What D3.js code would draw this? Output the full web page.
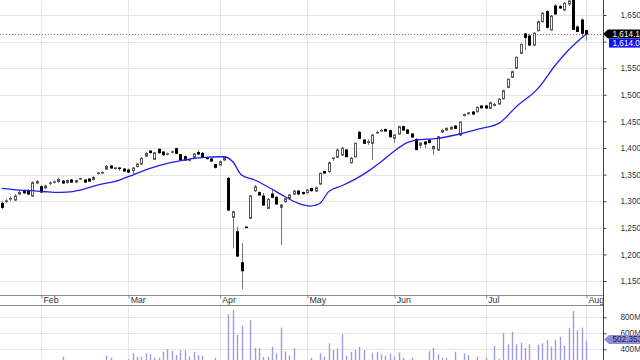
<!DOCTYPE html>
<html><head><meta charset="utf-8">
<script src="https://cdn.jsdelivr.net/npm/d3@7"></script>
<style>
body{margin:0;background:#fff}
svg{display:block}
text{font-family:"Liberation Sans",Arial,sans-serif}
</style>
</head><body>
<svg id="c" width="640" height="360"></svg>
<script>
// ---------- data ----------
const openP = [1296.0,1299.5,1304.0,1302.2,1313.5,1319.7,1319.7,1309.7,1334.2,1327.2,1324.8,1333.5,1335.5,1337.0,1337.9,1335.1,1339.8,1336.0,1341.7,1339.8,
1341.7,1340.7,1352.0,1353.0,1360.5,1366.1,1361.5,1362.5,1360.5,1358.6,1357.7,1365.2,1369.9,1384.9,1394.3,1378.7,1397.5,1392.4,1388.2,1392.0,
1398.6,1387.4,1383.6,1377.0,1382.5,1391.5,1390.0,1381.0,1379.3,1369.0,1368.0,1377.4,1343.0,1269.7,1242.6,1184.4,1251.4,1267.8,1319.7,1315.9,
1309.7,1286.6,1313.5,1307.3,1288.5,1299.0,1305.4,1313.5,1319.1,1316.3,1315.9,1323.8,1319.1,1332.3,1355.8,1355.4,1380.2,1382.5,1386.8,1396.2,
1372.3,1383.6,1429.5,1415.0,1410.3,1408.8,1428.3,1432.0,1434.7,1432.5,1418.2,1426.3,1440.0,1433.8,1426.3,1416.0,1404.7,1411.2,1415.0,1398.6,
1396.2,1430.0,1433.8,1435.7,1441.3,1424.4,1461.1,1464.3,1467.6,1468.2,1478.9,1478.9,1474.6,1479.9,1482.7,1492.6,1514.1,1532.9,1549.8,1578.0,
1614.3,1610.5,1593.6,1620.5,1637.4,1656.2,1621.8,1666.9,1666.0,1659.4,1670.7,1680.1,1627.4,1640.6,1620.5];
const highP = [1300.3,1304.0,1308.8,1313.5,1321.0,1322.0,1322.9,1337.9,1339.8,1330.4,1331.3,1337.0,1338.9,1344.5,1339.8,1340.7,1341.7,1340.7,1344.5,1341.7,
1343.6,1347.3,1354.8,1355.8,1368.0,1368.0,1364.2,1363.3,1362.4,1361.4,1364.2,1371.8,1383.0,1392.4,1396.2,1392.4,1399.0,1394.3,1391.5,1395.3,
1400.9,1388.7,1385.9,1380.2,1390.6,1396.2,1392.4,1383.0,1381.2,1369.9,1376.5,1384.0,1345.4,1282.5,1252.0,1221.4,1252.4,1311.6,1330.4,1318.2,
1315.4,1305.9,1321.0,1309.7,1294.7,1306.9,1313.5,1321.0,1321.0,1318.2,1322.9,1325.7,1327.6,1353.9,1357.7,1374.6,1382.1,1399.0,1402.8,1398.1,
1383.0,1410.3,1431.9,1416.9,1415.9,1426.3,1432.9,1435.7,1436.6,1434.7,1426.3,1442.3,1442.3,1435.7,1428.2,1418.8,1410.3,1413.1,1416.9,1404.7,
1422.5,1435.7,1438.5,1441.3,1443.2,1449.8,1464.8,1467.6,1469.5,1478.0,1480.8,1481.7,1487.4,1484.6,1493.9,1509.9,1530.6,1545.7,1572.0,1596.4,
1616.2,1614.3,1618.0,1639.7,1655.6,1659.4,1650.0,1670.7,1668.8,1674.4,1683.8,1682.0,1631.2,1643.4,1621.8];
const lowP = [1285.3,1296.5,1300.3,1300.3,1311.6,1313.5,1311.6,1307.8,1332.3,1315.4,1322.9,1330.4,1333.2,1334.2,1332.3,1333.2,1334.2,1334.2,1339.8,1334.2,
1336.0,1338.9,1350.1,1351.1,1358.6,1361.4,1359.6,1356.7,1354.8,1352.9,1351.1,1363.3,1368.0,1383.0,1389.6,1377.4,1389.6,1384.9,1385.9,1389.6,
1388.7,1375.5,1375.5,1374.6,1381.2,1386.8,1381.2,1378.3,1373.6,1361.4,1367.1,1375.5,1281.5,1211.4,1195.0,1134.9,1249.6,1266.5,1317.2,1309.7,
1290.9,1285.3,1305.9,1292.8,1217.6,1297.5,1304.1,1311.6,1311.6,1311.6,1314.4,1318.2,1317.2,1330.4,1351.1,1353.9,1375.5,1381.2,1384.9,1383.0,
1370.8,1382.1,1416.9,1407.5,1405.6,1377.4,1426.3,1430.0,1430.0,1419.7,1409.4,1425.3,1431.9,1426.3,1418.8,1395.3,1400.0,1400.0,1408.4,1386.8,
1394.3,1428.2,1431.9,1433.8,1435.7,1422.5,1459.2,1462.9,1462.0,1466.7,1474.2,1473.3,1473.3,1478.0,1480.8,1491.1,1512.8,1531.6,1548.5,1576.7,
1584.2,1591.7,1591.7,1619.0,1635.9,1624.6,1620.9,1650.0,1661.3,1657.5,1666.9,1621.8,1618.0,1609.2,1601.7];
const closeP = [1288.5,1300.5,1305.0,1309.7,1316.3,1315.9,1313.5,1334.7,1337.0,1317.2,1328.5,1334.5,1336.5,1340.7,1334.2,1338.9,1336.0,1338.9,1342.7,1336.0,
1337.9,1344.5,1353.0,1354.0,1365.2,1362.4,1362.5,1362.0,1356.7,1354.8,1362.4,1369.9,1380.6,1389.6,1391.5,1391.1,1391.1,1387.4,1389.2,1393.0,
1390.0,1377.4,1377.4,1378.0,1388.7,1388.7,1382.5,1380.2,1375.5,1363.7,1374.2,1382.1,1283.4,1280.2,1196.9,1169.3,1250.5,1309.7,1327.2,1311.6,
1292.8,1303.5,1307.3,1294.7,1292.8,1304.6,1311.6,1319.1,1313.5,1314.4,1321.0,1319.7,1325.3,1352.4,1353.0,1372.3,1381.2,1396.2,1399.4,1383.6,
1380.6,1408.8,1418.2,1408.8,1411.8,1424.4,1429.3,1433.0,1431.9,1421.2,1424.4,1440.0,1433.8,1427.6,1420.6,1397.1,1409.4,1407.5,1410.3,1402.8,
1421.2,1432.9,1437.0,1438.9,1437.0,1448.8,1462.9,1466.1,1463.9,1476.5,1475.5,1475.2,1485.1,1481.7,1491.5,1507.7,1529.1,1543.4,1570.5,1594.9,
1608.1,1593.6,1615.6,1637.4,1653.2,1626.9,1648.1,1651.9,1663.2,1672.0,1676.3,1623.1,1619.0,1615.6,1614.11];
// volume in millions of shares
const volumeM = [240,235,250,245,230,255,240,260,250,245,235,250,240,255,308,250,245,240,255,250,
245,260,240,255,320,295,250,245,260,279,350,308,308,350,338,295,295,370,400,379,
329,388,388,308,370,329,320,255,260,295,250,245,838,891,579,695,200,766,420,413,
308,308,433,350,670,370,320,413,255,250,260,295,250,350,308,475,391,413,588,320,
370,391,433,391,255,350,370,338,320,350,308,362,295,255,295,260,250,245,379,420,
338,295,295,255,370,260,350,329,255,308,250,295,260,445,279,600,463,620,463,482,
420,463,260,454,475,516,433,516,558,445,670,879,641,670,502.353412];
// moving average line (candle index, value)
const maIndex = [0,4,7,10,12,15,18,22,27,30,34,38,41,44,47,50,51,53,55,58,61,65,68,71,72,73,75,78,81,84,87,90,93,95,100,105,110,114,118,123,127,130,132,134];
const maValue = [1324.2,1321.0,1319.7,1317.8,1316.7,1317.2,1321.0,1330.4,1339.8,1349.2,1361.8,1371.2,1376.1,1380.6,1382.5,1383.6,1383.6,1374.2,1349.2,1339.8,1327.2,1308.4,1296.0,1290.9,1292.8,1296.0,1318.0,1329.0,1341.0,1356.0,1374.0,1394.0,1410.0,1415.0,1418.2,1426.3,1437.0,1446.4,1477.6,1512.2,1556.0,1584.2,1599.8,1614.05];
const monthLabels = ["Feb","Mar","Apr","May","Jun","Jul","Aug"];
const monthTickIndex = [9,29,50,70,90,111,134];
const priceTicks = [1150,1200,1250,1300,1350,1400,1450,1500,1550,1600,1650];
const volumeTicks = [400,600,800];
const lastClose = 1614.11;
const lastMA = 1614.05;
const lastVolume = 502353412;

// ---------- layout ----------
const plotR = 603;
const priceTop = 0, priceBottom = 295;
const bandBottom = 306, volBottom = 360;

const x = d3.scaleLinear().domain([0,134]).range([1.7,586]);
const y = d3.scaleLinear().domain([1150,1650]).range([281,15]);
const yv = d3.scaleLinear().domain([400,800]).range([349.3,317.3]);

const svg = d3.select("#c");
const defs = svg.append("defs");
defs.append("clipPath").attr("id","cp").append("rect").attr("x",0).attr("y",priceTop).attr("width",plotR).attr("height",priceBottom-priceTop);
defs.append("clipPath").attr("id","cv").append("rect").attr("x",0).attr("y",bandBottom).attr("width",plotR).attr("height",volBottom-bandBottom);

const grid = "#e6e6e6";
svg.append("g").selectAll("line").data(priceTicks).join("line")
  .attr("x1",0).attr("x2",plotR).attr("y1",d=>Math.round(y(d))+0.5).attr("y2",d=>Math.round(y(d))+0.5)
  .attr("stroke",grid);
svg.append("g").selectAll("line").data(volumeTicks).join("line")
  .attr("x1",0).attr("x2",plotR).attr("y1",d=>Math.round(yv(d))+0.5).attr("y2",d=>Math.round(yv(d))+0.5)
  .attr("stroke",grid);
const vg = svg.append("g");
vg.selectAll("line.a").data(monthTickIndex).join("line").attr("class","a")
  .attr("x1",d=>Math.round(x(d))+0.5).attr("x2",d=>Math.round(x(d))+0.5).attr("y1",priceTop).attr("y2",priceBottom)
  .attr("stroke",grid);
vg.selectAll("line.b").data(monthTickIndex).join("line").attr("class","b")
  .attr("x1",d=>Math.round(x(d))+0.5).attr("x2",d=>Math.round(x(d))+0.5).attr("y1",bandBottom).attr("y2",volBottom)
  .attr("stroke",grid);

const pg = svg.append("g").attr("clip-path","url(#cp)");
pg.append("line").attr("x1",0).attr("x2",plotR)
  .attr("y1",Math.round(y(lastClose))+0.5).attr("y2",Math.round(y(lastClose))+0.5)
  .attr("stroke","#ff4d4d").attr("stroke-dasharray","1,2");

const idx = d3.range(openP.length);
const cg = pg.append("g");
cg.selectAll("line").data(idx).join("line")
  .attr("x1",i=>Math.round(x(i))+0.5).attr("x2",i=>Math.round(x(i))+0.5)
  .attr("y1",i=>y(highP[i])).attr("y2",i=>y(lowP[i]))
  .attr("stroke","#777").attr("stroke-width",1);
cg.selectAll("rect").data(idx).join("rect")
  .attr("x",i=>Math.round(x(i))-0.5).attr("width",2)
  .attr("y",i=>y(Math.max(openP[i],closeP[i])))
  .attr("height",i=>Math.max(0.5,Math.abs(y(openP[i])-y(closeP[i]))))
  .attr("fill",i=>closeP[i]>=openP[i]?"#fff":"#000")
  .attr("stroke",i=>closeP[i]>=openP[i]?"#555":"#000")
  .attr("stroke-width",1);

const maPts = maIndex.map((d,k)=>[d,maValue[k]]);
pg.append("path").datum(maPts)
  .attr("d",d3.line().x(d=>x(d[0])).y(d=>y(d[1])).curve(d3.curveMonotoneX))
  .attr("fill","none").attr("stroke","#1f1fee").attr("stroke-width",1.3);

svg.append("g").attr("clip-path","url(#cv)").selectAll("line").data(idx).join("line")
  .attr("x1",i=>Math.round(x(i))+0.5).attr("x2",i=>Math.round(x(i))+0.5)
  .attr("y1",volBottom).attr("y2",i=>yv(volumeM[i]))
  .attr("stroke","#9d9dde").attr("stroke-width",1.4);

svg.append("line").attr("x1",0).attr("x2",plotR).attr("y1",295.5).attr("y2",295.5).attr("stroke","#8a8a8a").attr("stroke-width",1.2);
svg.append("line").attr("x1",0).attr("x2",plotR).attr("y1",305.5).attr("y2",305.5).attr("stroke","#8a8a8a").attr("stroke-width",1.2);
const xa = svg.append("g").attr("transform","translate(0,295.5)")
  .call(d3.axisBottom(x).tickValues(monthTickIndex).tickFormat((d,k)=>monthLabels[k]).tickSize(3).tickPadding(0));
xa.select(".domain").remove();
xa.selectAll(".tick line").attr("stroke","#888").attr("transform","translate(0.5,0)");
xa.selectAll(".tick text").attr("text-anchor","start").attr("x",2).attr("y",1).attr("dy","0.71em")
  .attr("font-size",8.8).attr("fill","#333").attr("font-family","'Liberation Sans',Arial,sans-serif");

svg.append("line").attr("x1",plotR+0.5).attr("x2",plotR+0.5).attr("y1",0).attr("y2",360).attr("stroke","#444");
const ya = svg.append("g").attr("transform",`translate(${plotR+0.5},0)`)
  .call(d3.axisRight(y).tickValues(priceTicks).tickFormat(d3.format(",")).tickSize(3).tickPadding(14));
ya.select(".domain").remove();
ya.selectAll(".tick line").attr("stroke","#444");
ya.selectAll(".tick text").attr("font-size",8.2).attr("fill","#333").attr("font-family","'Liberation Sans',Arial,sans-serif");
const va = svg.append("g").attr("transform",`translate(${plotR+0.5},0)`)
  .call(d3.axisRight(yv).tickValues(volumeTicks).tickFormat(d=>d+"M").tickSize(3).tickPadding(14));
va.select(".domain").remove();
va.selectAll(".tick line").attr("stroke","#444");
va.selectAll(".tick text").attr("font-size",8.2).attr("fill","#333").attr("font-family","'Liberation Sans',Arial,sans-serif");

function tag(yc, fill, txt, txtColor, left, arrow){
  const g = svg.append("g");
  const h = 9;
  const pts = arrow
    ? [[left,yc],[left+5,yc-h/2],[640,yc-h/2],[640,yc+h/2],[left+5,yc+h/2]]
    : [[left,yc-h/2],[640,yc-h/2],[640,yc+h/2],[left,yc+h/2]];
  g.append("path").attr("d","M"+pts.join("L")+"Z").attr("fill",fill);
  g.append("text").attr("x",612.5).attr("y",yc).attr("dy","0.35em").attr("font-size",8.2)
    .attr("fill",txtColor).text(txt);
}
tag(y(lastClose), "#000", d3.format(",.2f")(lastClose), "#fff", 603, true);
tag(y(lastClose)+9, "#1010ff", d3.format(",.2f")(lastMA), "#fff", 609, false);
tag(yv(lastVolume/1e6)-1.5, "#8e8ed6", d3.format(",")(lastVolume), "#1a1a40", 604, true);
</script>
</body></html>
